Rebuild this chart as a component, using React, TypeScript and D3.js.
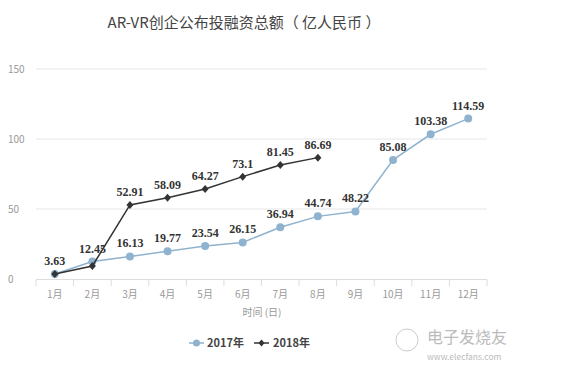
import React from "react";
import { scaleBand, scaleLinear, line } from "d3";

const months = ["1月", "2月", "3月", "4月", "5月", "6月", "7月", "8月", "9月", "10月", "11月", "12月"];
const values2017 = [3.63, 12.45, 16.13, 19.77, 23.54, 26.15, 36.94, 44.74, 48.22, 85.08, 103.38, 114.59];
const values2018 = [3.63, 9.3, 52.91, 58.09, 64.27, 73.1, 81.45, 86.69];
// which points carry a value label
const labels2017 = ["3.63", "12.45", "16.13", "19.77", "23.54", "26.15", "36.94", "44.74", "48.22", "85.08", "103.38", "114.59"];
const labels2018 = ["", "", "52.91", "58.09", "64.27", "73.1", "81.45", "86.69"];
const yTicks = [0, 50, 100, 150];

const W = 578;
const H = 369;
const blue = "#8fb3cf";
const dark = "#333";
const font = "'Noto Sans CJK SC', 'Noto Sans', sans-serif";
const labelFont = "'Liberation Serif', serif";

export default function App() {
  const x = scaleBand<string>().domain(months).range([36, 487]);
  const y = scaleLinear().domain([0, 150]).range([279, 69]);
  const cx = (m: string) => x(m)! + x.bandwidth() / 2;

  const path = line<number>()
    .x((_, i) => cx(months[i]))
    .y((d) => y(d));

  return (
    <div style={{ position: "absolute", left: 0, top: 0 }}>
      <svg width={W} height={H} style={{ display: "block", background: "#fff" }}>
        <text x={244} y={28} textAnchor="middle" fontSize={15} fill="#444" fontFamily={font}>
          AR-VR创企公布投融资总额（ 亿人民币 ）
        </text>

        {/* grid + y labels */}
        {yTicks.map((t) => (
          <g key={t}>
            {t > 0 && <line x1={36} x2={487} y1={y(t)} y2={y(t)} stroke="#e6e6e6" strokeWidth={1} />}
            <text x={8} y={y(t) + 4} fontSize={10} fill="#999" fontFamily={font}>
              {t}
            </text>
          </g>
        ))}

        {/* x axis */}
        <line x1={36} x2={487} y1={279.5} y2={279.5} stroke="#ddd" />
        {months.map((m) => (
          <line key={"t" + m} x1={x(m)!} x2={x(m)!} y1={279.5} y2={286} stroke="#ddd" />
        ))}
        <line x1={487} x2={487} y1={279.5} y2={286} stroke="#ddd" />
        {months.map((m) => (
          <text key={m} x={cx(m)} y={298} textAnchor="middle" fontSize={10} fill="#999" fontFamily={font}>
            {m}
          </text>
        ))}
        <text x={262} y={316} textAnchor="middle" fontSize={10} fill="#999" fontFamily={font}>
          时间 (日)
        </text>

        {/* 2017 */}
        <path d={path(values2017) || ""} fill="none" stroke={blue} strokeWidth={1.5} />
        {values2017.map((v, i) => (
          <circle key={"b" + i} cx={cx(months[i])} cy={y(v)} r={4} fill={blue} />
        ))}

        {/* 2018 */}
        <path d={path(values2018) || ""} fill="none" stroke={dark} strokeWidth={1.5} />
        {values2018.map((v, i) => {
          const px = cx(months[i]);
          const py = y(v);
          return (
            <path key={"d" + i} d={`M${px},${py - 4}L${px + 3.5},${py}L${px},${py + 4}L${px - 3.5},${py}Z`} fill={dark} />
          );
        })}

        {/* value labels */}
        {values2017.map((v, i) => (
          <text key={"lb" + i} x={cx(months[i])} y={y(v) - 9} textAnchor="middle" fontSize={12} fontWeight="bold" fill="#333" fontFamily={labelFont}>
            {labels2017[i]}
          </text>
        ))}
        {values2018.map((v, i) => (
          <text key={"ld" + i} x={cx(months[i])} y={y(v) - 9} textAnchor="middle" fontSize={12} fontWeight="bold" fill="#333" fontFamily={labelFont}>
            {labels2018[i]}
          </text>
        ))}

        {/* legend */}
        <g fontFamily={font} fontSize={11} fontWeight="bold" fill="#444">
          <line x1={189} x2={204} y1={343} y2={343} stroke={blue} strokeWidth={1.5} />
          <circle cx={196.5} cy={343} r={3.5} fill={blue} />
          <text x={207} y={347}>2017年</text>
          <line x1={254} x2={269} y1={343} y2={343} stroke={dark} strokeWidth={1.5} />
          <path d="M261.5,339.5L264.5,343L261.5,346.5L258.5,343Z" fill={dark} />
          <text x={273} y={347}>2018年</text>
        </g>

        {/* watermark */}
        <g fill="#bbb" fontFamily={font}>
          <circle cx={407} cy={340} r={11} fill="none" stroke="#ccc" />
          <text x={427} y={343} fontSize={16}>电子发烧友</text>
          <text x={427} y={360} fontSize={8.5}>www.elecfans.com</text>
        </g>
      </svg>
    </div>
  );
}
